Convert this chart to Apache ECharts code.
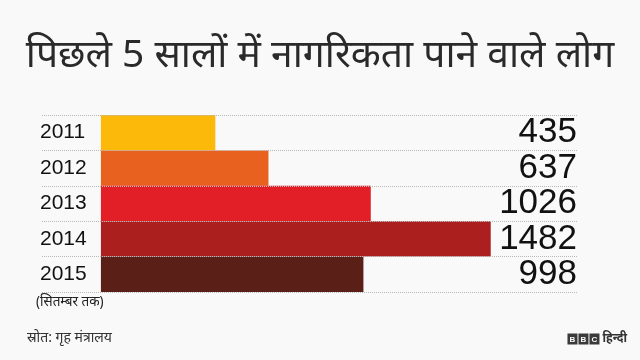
<!DOCTYPE html>
<html>
<head>
<meta charset="utf-8">
<script src="https://cdn.jsdelivr.net/npm/echarts@6/dist/echarts.min.js"></script>
<style>
html,body{margin:0;padding:0;background:#f9f9f9;}
#chart{width:640px;height:360px;}
</style>
</head>
<body>
<div id="chart"></div>
<script>
const titleText = 'पिछले 5 सालों में नागरिकता पाने वाले लोग';
const years = ['2011', '2012', '2013', '2014', '2015'];
const values = [435, 637, 1026, 1482, 998];
const barColors = ['#FDB90A', '#E8611F', '#E21F26', '#AC1F1F', '#5A1F17'];
const noteText = '(सितम्बर तक)';
const sourceText = 'स्रोत: गृह मंत्रालय';
const brandText = 'हिन्दी';

const chart = echarts.init(document.getElementById('chart'), null, {renderer: 'canvas'});
chart.setOption({
  backgroundColor: '#f9f9f9',
  animation: false,
  title: [
    {text: titleText, left: 'center', top: 31,
     textStyle: {fontSize: 39, fontWeight: 'normal', color: '#2a2a2a', fontFamily: 'Noto Sans, sans-serif'}},
    {text: noteText, left: 31, top: 290,
     textStyle: {fontSize: 13.5, fontWeight: 'normal', color: '#222', fontFamily: 'Noto Sans, sans-serif'}},
    {text: sourceText, left: 22, top: 326,
     textStyle: {fontSize: 14, fontWeight: 'normal', color: '#333', fontFamily: 'Noto Sans, sans-serif'}},
    {text: '{b|B}{g| }{b|B}{g| }{b|C}{g| }{t|' + brandText + '}', right: 8, top: 328,
     textStyle: {rich: {
       b: {backgroundColor: '#3a3a3a', color: '#fff', fontSize: 8, fontWeight: 'bold', padding: [2, 1, 1, 1], width: 8, align: 'center', fontFamily: 'Liberation Sans'},
       g: {fontSize: 2, width: 1},
       t: {fontSize: 12, color: '#333', fontFamily: 'Noto Sans, sans-serif', padding: [0, 0, 0, 2]}
     }}}
  ],
  grid: {left: 42, right: 63, top: 115, bottom: 68, containLabel: false},
  xAxis: {
    type: 'value', min: -224, max: 1810, show: false,
    splitLine: {show: false}
  },
  yAxis: [
    {
      type: 'category', data: years, inverse: true,
      axisLine: {show: false}, axisTick: {show: false},
      axisLabel: {inside: true, margin: -2, interval: 0, fontSize: 21, color: '#111', fontFamily: 'Liberation Sans, Arial, sans-serif'},
      splitLine: {show: true, interval: 0, lineStyle: {type: 'dotted', color: '#b8b8b8', width: 1}},
      z: 5
    },
    {
      type: 'category', data: values.map(String), inverse: true, position: 'right',
      axisLine: {show: false}, axisTick: {show: false},
      axisLabel: {inside: true, margin: 0, interval: 0, hideOverlap: false, fontSize: 35, color: '#111', fontFamily: 'Liberation Sans, Arial, sans-serif'},
      splitLine: {show: false}
    }
  ],
  series: [{
    type: 'bar',
    data: values.map((v, i) => ({value: v, itemStyle: {color: barColors[i]}})),
    barCategoryGap: '0%',
    z: 2
  }]
});
</script>
</body>
</html>
